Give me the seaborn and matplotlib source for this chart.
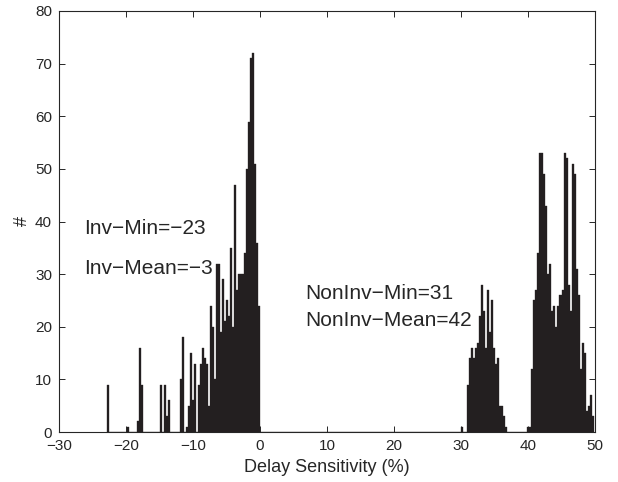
import matplotlib
matplotlib.use("Agg")
import matplotlib.pyplot as plt
import seaborn as sns

# histogram: bin centre (delay sensitivity, %) and count, bins are 0.3 wide
inv_delay = [-22.65, -19.65, -18.15, -17.85, -17.55, -14.85, -14.25, -13.95, -13.65,
             -11.85, -11.55, -10.95, -10.65, -10.35, -10.05, -9.75, -9.15, -8.85, -8.55,
             -8.25, -7.95, -7.65, -7.35, -7.05, -6.75, -6.45, -6.15, -5.85, -5.55, -5.25,
             -4.95, -4.65, -4.35, -4.05, -3.75, -3.45, -3.15, -2.85, -2.55, -2.25, -1.95,
             -1.65, -1.35, -1.05, -0.75, -0.45, -0.15]
inv_count = [9, 1, 2, 16, 9, 9, 9, 3, 6,
             10, 18, 1, 5, 15, 6, 13, 9, 13, 16,
             14, 13, 5, 24, 20, 10, 32, 32, 19, 29, 21,
             25, 22, 35, 20, 47, 27, 30, 30, 30, 34, 50,
             59, 71, 72, 51, 36, 24]

noninv_delay = [30.15, 31.05, 31.35, 31.65, 31.95, 32.25, 32.55, 32.85, 33.15, 33.45,
                33.75, 34.05, 34.35, 34.65, 34.95, 35.25, 35.55, 35.85, 36.15, 36.45,
                36.75,
                40.05, 40.35, 40.65, 40.95, 41.25, 41.55, 41.85, 42.15, 42.45, 42.75,
                43.05, 43.35, 43.65, 43.95, 44.25, 44.55, 44.85, 45.15, 45.45, 45.75,
                46.05, 46.35, 46.65, 46.95, 47.25, 47.55, 47.85, 48.15, 48.45, 48.75,
                49.05, 49.35, 49.65]
noninv_count = [1, 9, 14, 16, 14, 16, 17, 22, 28, 23,
                16, 27, 19, 25, 16, 13, 14, 5, 5, 3,
                1,
                1, 1, 12, 25, 27, 34, 53, 53, 49, 43,
                30, 32, 23, 24, 20, 24, 26, 27, 53, 52,
                28, 23, 51, 49, 31, 26, 12, 17, 15, 4,
                5, 7, 3]

notes = ["Inv\u2212Min=\u221223", "Inv\u2212Mean=\u22123",
         "NonInv\u2212Min=31", "NonInv\u2212Mean=42"]

sns.set_style("ticks")
plt.rcParams['font.family'] = ['Liberation Sans', 'DejaVu Sans']

fig = plt.figure(figsize=(6.18, 4.82), dpi=100)
ax = fig.add_axes([59 / 618, 1 - 432 / 482, 536 / 618, 421 / 482])

sns.histplot(x=inv_delay + noninv_delay, weights=inv_count + noninv_count,
             binwidth=0.3, binrange=(-22.8, 49.8), color="#231f20", alpha=1,
             edgecolor="#231f20", linewidth=0.25, ax=ax)

ax.set_xlim(-30, 50)
ax.set_ylim(0, 80)
ax.set_xticks(range(-30, 51, 10))
ax.set_yticks(range(0, 81, 10))
ax.tick_params(direction="in", top=True, right=True, length=4.5, width=0.7,
               labelsize=11, pad=5)
for s in ax.spines.values():
    s.set_visible(True)
    s.set_linewidth(0.8)
ax.set_xlabel("Delay Sensitivity (%)", fontsize=13)
ax.set_ylabel("#", fontsize=13, labelpad=3)

ax.text(-26.2, 38.7, notes[0], fontsize=15, va="center")
ax.text(-26.2, 31.0, notes[1], fontsize=15, va="center")
ax.text(6.8, 26.3, notes[2], fontsize=15, va="center")
ax.text(6.8, 21.2, notes[3], fontsize=15, va="center")

fig.savefig("out.png", dpi=100)
